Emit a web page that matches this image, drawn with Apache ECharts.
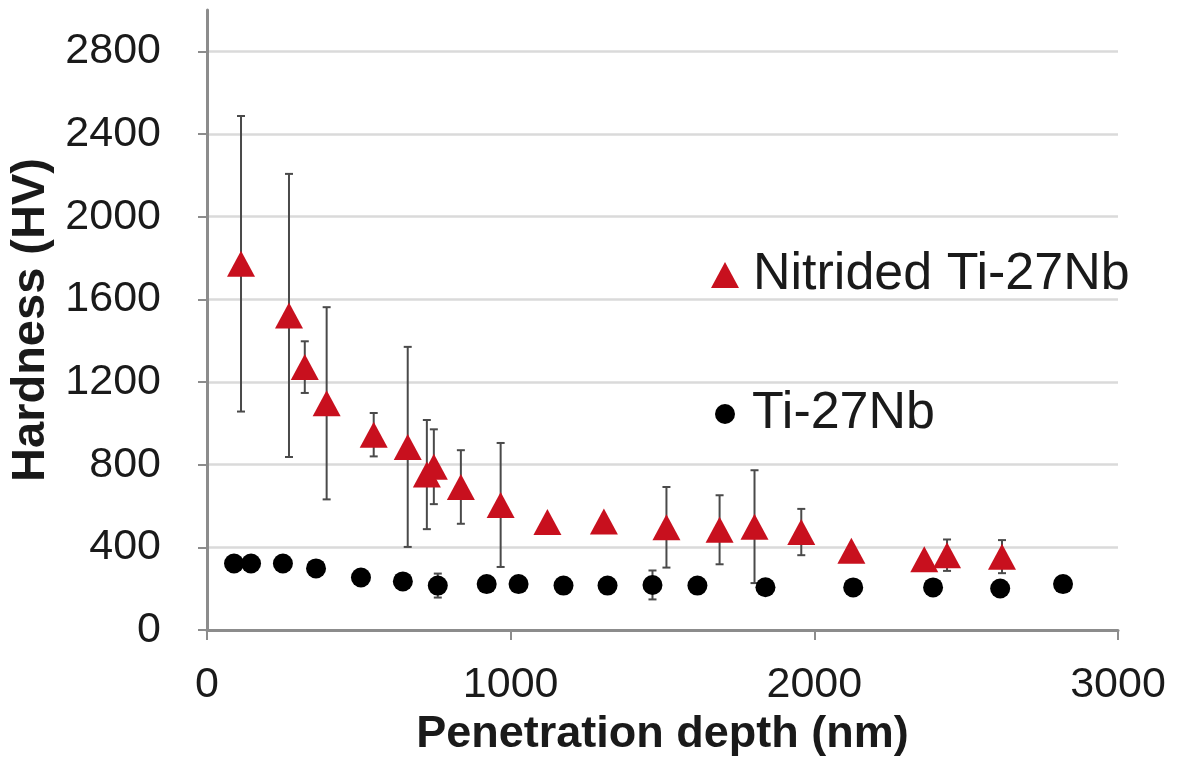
<!DOCTYPE html>
<html>
<head>
<meta charset="utf-8">
<script src="https://cdn.jsdelivr.net/npm/echarts@6/dist/echarts.min.js"></script>
<style>
  html, body { margin: 0; padding: 0; background: #fff; }
  #chart { width: 1182px; height: 773px; }
</style>
</head>
<body>
<div id="chart"></div>
<script>
// Nitrided Ti-27Nb: depth (nm), hardness (HV), +/- error
const nitridedX = [112, 270, 322, 394, 549, 661, 724, 747, 836, 967, 1121, 1307, 1513, 1688, 1803, 1957, 2122, 2362, 2437, 2618]
const nitridedY = [1772, 1522, 1272, 1097, 945, 886, 752, 790, 692, 605, 523, 525, 497, 485, 500, 474, 383, 342, 362, 355]
const nitridedErr = [715, 685, 125, 465, 105, 484, 264, 181, 178, 300, 0, 0, 195, 167, 273, 112, 0, 0, 76, 80]

// Ti-27Nb (untreated)
const tiX = [89, 145, 250, 359, 507, 645, 760, 921, 1026, 1174, 1319, 1467, 1615, 1839, 2128, 2391, 2612, 2819]
const tiY = [322, 322, 322, 298, 254, 235, 215, 222, 222, 215, 215, 218, 215, 207, 206, 206, 201, 222]
const tiErr = [0, 0, 0, 0, 0, 0, 58, 0, 0, 0, 0, 70, 0, 0, 0, 0, 0, 0]

const yTicks = [0, 400, 800, 1200, 1600, 2000, 2400, 2800]
const xTicks = [0, 1000, 2000, 3000]

const textColor = '#1a1a1a'
const font = 'Liberation Sans, Arial, sans-serif'

const zip = (xs, ys, es) => xs.map((x, i) => [x, ys[i], es ? es[i] : 0])

const errorBars = (data, z) => ({
  type: 'custom',
  silent: true,
  z,
  data: data.filter(d => d[2] > 0),
  renderItem: (params, api) => {
    const x = api.value(0), y = api.value(1), e = api.value(2)
    const top = api.coord([x, y + e])
    const bot = api.coord([x, y - e])
    const cap = 4
    const style = { stroke: '#4a4a4a', lineWidth: 2 }
    return {
      type: 'group',
      children: [
        { type: 'line', shape: { x1: top[0], y1: top[1], x2: bot[0], y2: bot[1] }, style },
        { type: 'line', shape: { x1: top[0] - cap, y1: top[1], x2: top[0] + cap, y2: top[1] }, style },
        { type: 'line', shape: { x1: bot[0] - cap, y1: bot[1], x2: bot[0] + cap, y2: bot[1] }, style }
      ]
    }
  }
})

const chart = echarts.init(document.getElementById('chart'), null, { renderer: 'canvas' })

chart.setOption({
  backgroundColor: '#fff',
  animation: false,
  grid: { left: 207, right: 64, top: 10, bottom: 143, containLabel: false, outerBoundsMode: 'none' },
  legend: [
    {
      data: ['Nitrided Ti-27Nb'],
      left: 706, top: 244,
      itemWidth: 28, itemHeight: 26,
      textStyle: { fontSize: 52, color: textColor, fontFamily: font, padding: [0, 0, 0, 9] }
    },
    {
      data: ['Ti-27Nb'],
      left: 710, top: 383,
      itemWidth: 20, itemHeight: 20,
      textStyle: { fontSize: 52, color: textColor, fontFamily: font, padding: [0, 0, 0, 12] }
    }
  ],
  xAxis: {
    type: 'value',
    min: 0, max: 3000, interval: 1000,
    name: 'Penetration depth (nm)',
    nameLocation: 'middle',
    nameGap: 80,
    nameTextStyle: { fontSize: 45, fontWeight: 'bold', color: textColor, fontFamily: font },
    axisLine: { show: true, lineStyle: { color: '#8c8c8c', width: 3 } },
    axisTick: { show: true, length: 10, lineStyle: { color: '#8c8c8c', width: 2 } },
    axisLabel: { fontSize: 43, color: textColor, fontFamily: font, margin: 34, customValues: xTicks, formatter: v => String(v) },
    splitLine: { show: false }
  },
  yAxis: {
    type: 'value',
    min: 0, max: 3000, interval: 400,
    name: 'Hardness (HV)',
    nameLocation: 'middle',
    nameGap: 148,
    nameTextStyle: { fontSize: 47, fontWeight: 'bold', color: textColor, fontFamily: font },
    axisLine: { show: true, lineStyle: { color: '#8c8c8c', width: 3 } },
    axisTick: { show: true, length: 9, lineStyle: { color: '#8c8c8c', width: 2 }, customValues: yTicks },
    axisLabel: { fontSize: 43, color: textColor, fontFamily: font, margin: 46, customValues: yTicks, formatter: v => String(v) },
    splitLine: {
      show: true,
      lineStyle: {
        width: 2.5,
        color: ['#dadada', '#dadada', '#dadada', '#dadada', '#dadada', '#dadada', '#dadada', '#dadada', 'rgba(0,0,0,0)']
      }
    }
  },
  series: [
    errorBars(zip(tiX, tiY, tiErr), 2),
    errorBars(zip(nitridedX, nitridedY, nitridedErr), 2),
    {
      name: 'Ti-27Nb',
      type: 'scatter',
      z: 3,
      symbol: 'circle',
      symbolSize: 20,
      itemStyle: { color: '#000', opacity: 1 },
      data: zip(tiX, tiY).map(d => [d[0], d[1]])
    },
    {
      name: 'Nitrided Ti-27Nb',
      type: 'scatter',
      z: 4,
      symbol: 'triangle',
      symbolSize: [28, 26],
      itemStyle: { color: '#c8101e', opacity: 1 },
      data: zip(nitridedX, nitridedY).map(d => [d[0], d[1]])
    }
  ]
})
</script>
</body>
</html>
